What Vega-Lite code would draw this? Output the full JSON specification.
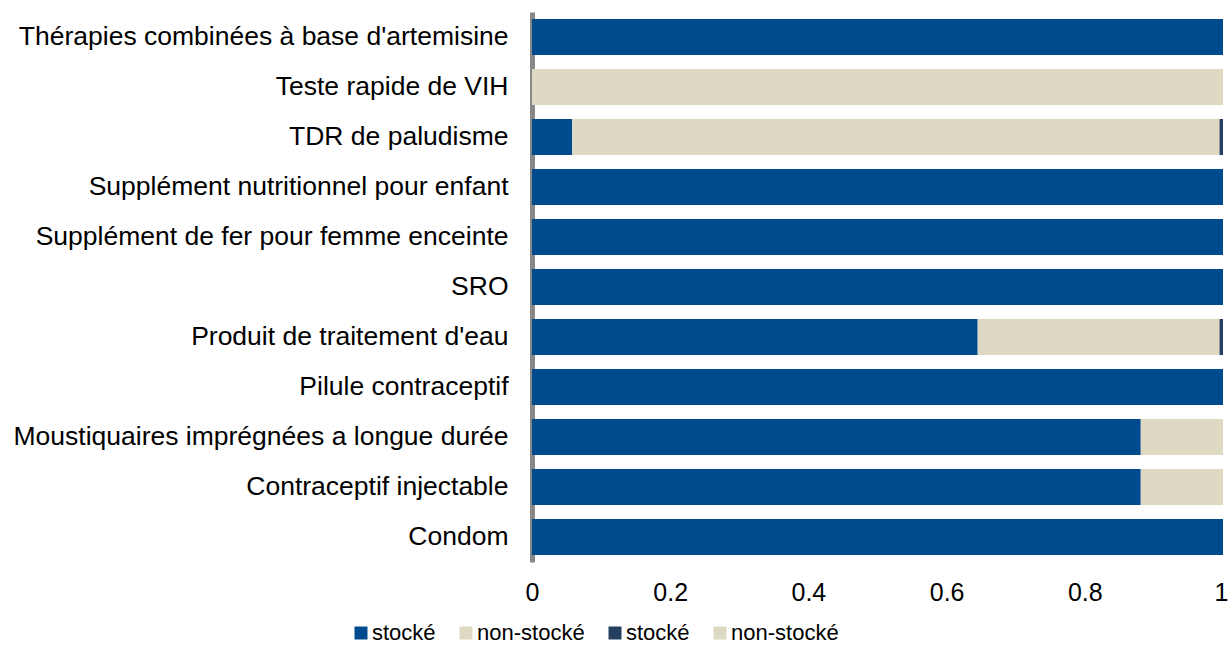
{
  "$schema": "https://vega.github.io/schema/vega-lite/v6.json",
  "width": 691,
  "height": 550,
  "autosize": {"type": "none"},
  "padding": {"left": 532, "top": 12, "right": 6, "bottom": 91},
  "background": "white",
  "config": {
    "view": {"stroke": null},
    "font": "Liberation Sans"
  },
  "data": {
    "values": [
      {"cat": "Thérapies combinées à base d'artemisine", "series": "s1", "ord": 1, "v": 1.0},
      {"cat": "Teste rapide de VIH", "series": "n1", "ord": 2, "v": 1.0},
      {"cat": "TDR de paludisme", "series": "s1", "ord": 1, "v": 0.058},
      {"cat": "TDR de paludisme", "series": "n1", "ord": 2, "v": 0.937},
      {"cat": "TDR de paludisme", "series": "s2", "ord": 3, "v": 0.005},
      {"cat": "Supplément nutritionnel pour enfant", "series": "s1", "ord": 1, "v": 1.0},
      {"cat": "Supplément de fer pour femme enceinte", "series": "s1", "ord": 1, "v": 1.0},
      {"cat": "SRO", "series": "s1", "ord": 1, "v": 1.0},
      {"cat": "Produit de traitement d'eau", "series": "s1", "ord": 1, "v": 0.645},
      {"cat": "Produit de traitement d'eau", "series": "n1", "ord": 2, "v": 0.35},
      {"cat": "Produit de traitement d'eau", "series": "s2", "ord": 3, "v": 0.005},
      {"cat": "Pilule contraceptif", "series": "s1", "ord": 1, "v": 1.0},
      {"cat": "Moustiquaires imprégnées a longue durée", "series": "s1", "ord": 1, "v": 0.881},
      {"cat": "Moustiquaires imprégnées a longue durée", "series": "n1", "ord": 2, "v": 0.119},
      {"cat": "Contraceptif injectable", "series": "s1", "ord": 1, "v": 0.881},
      {"cat": "Contraceptif injectable", "series": "n1", "ord": 2, "v": 0.119},
      {"cat": "Condom", "series": "s1", "ord": 1, "v": 1.0}
    ]
  },
  "mark": {"type": "bar"},
  "encoding": {
    "y": {
      "field": "cat",
      "type": "nominal",
      "sort": null,
      "scale": {"paddingInner": 0.28, "paddingOuter": 0.14},
      "axis": {
        "title": null,
        "ticks": false,
        "domain": true,
        "domainColor": "#888888",
        "domainWidth": 5,
        "labelFontSize": 26.5,
        "labelColor": "#000000",
        "labelPadding": 24,
        "labelLimit": 600
      }
    },
    "x": {
      "field": "v",
      "type": "quantitative",
      "stack": "zero",
      "scale": {"domain": [0, 1]},
      "axis": {
        "title": null,
        "grid": false,
        "ticks": false,
        "domain": false,
        "values": [0, 0.2, 0.4, 0.6, 0.8, 1],
        "format": "~g",
        "labelFontSize": 25,
        "labelColor": "#000000",
        "labelPadding": 18,
        "labelFlush": false,
        "labelAlign": {"condition": {"test": "datum.value == 1", "value": "right"}, "value": "center"},
        "labelOffset": {"condition": {"test": "datum.value == 1", "value": 5}, "value": 0}
      }
    },
    "color": {
      "field": "series",
      "type": "nominal",
      "scale": {
        "domain": ["s1", "n1", "s2", "n2"],
        "range": ["#004A8E", "#DDD9C3", "#243F60", "#DDD9C3"]
      },
      "legend": {
        "title": null,
        "orient": "none",
        "legendX": -182,
        "legendY": 610,
        "padding": 0,
        "direction": "horizontal",
        "symbolType": "square",
        "symbolSize": 169,
        "symbolStrokeWidth": 0,
        "labelFontSize": 22,
        "labelColor": "#000000",
        "labelOffset": 0,
        "columnPadding": 19,
        "labelExpr": "datum.value == 's1' || datum.value == 's2' ? 'stocké' : 'non-stocké'"
      }
    },
    "order": {"field": "ord", "type": "quantitative"}
  }
}
